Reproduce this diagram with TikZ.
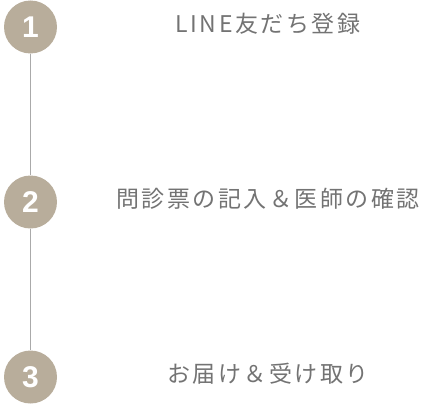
\documentclass[tikz,border=0pt]{standalone}
\usepackage{fontspec}
\usepackage{tikz}
\usepackage{xcolor}
\usetikzlibrary{positioning}
\newfontfamily\jpfont[LetterSpace=11]{Noto Sans CJK JP}
\newfontfamily\numfont{Liberation Sans}
\definecolor{cStep}{HTML}{B8AD9B}
\definecolor{cRail}{HTML}{AAAAAA}
\definecolor{cText}{HTML}{737373}
\tikzset{
  stepdot/.style ={circle,fill=cStep,minimum size=53pt,inner sep=0pt,
                   text=white,font=\numfont\bfseries\fontsize{30}{30}\selectfont},
  steptxt/.style ={text=cText,inner sep=0pt,font=\jpfont\fontsize{23}{24}\selectfont},
  rail/.style    ={cRail,line width=1.2pt},
}
\begin{document}
\begin{tikzpicture}[x=1pt,y=-1pt]
\useasboundingbox (0,0) rectangle (435,404);
% the three steps
\foreach \n/\yy/\txt in {1/27/LINE友だち登録,2/202/問診票の記入＆医師の確認,3/377/お届け＆受け取り}{
  \node[stepdot] (c\n) at (30.5,\yy) {\n};
  \node[steptxt] (t\n) at (268,\yy-3) {\txt};
}
% rail between the circles
\draw[rail] (c1.south) -- (c2.north);
\draw[rail] (c2.south) -- (c3.north);
\end{tikzpicture}
\end{document}
